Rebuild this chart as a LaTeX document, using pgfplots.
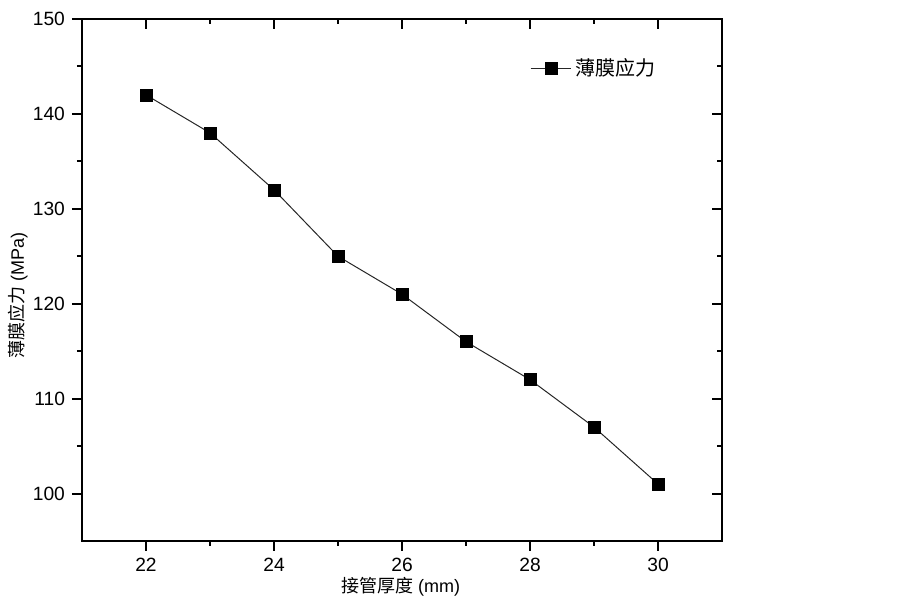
\documentclass[border=0pt]{standalone}
\usepackage{fontspec}
\setmainfont{Liberation Sans}
\newfontfamily\cjk{Noto Sans CJK SC}
\usepackage{pgfplots}
\pgfplotsset{compat=1.18}

\begin{document}
\begin{tikzpicture}
    \pgfplotsset{
        every axis/.append style={
            scale only axis,
            width=320pt, height=261pt,
            xmin=21, xmax=31,
            ymin=95, ymax=150,
            xtick={22,24,...,30},
            ytick={100,110,...,150},
            minor x tick num=1,
            minor y tick num=1,
            major tick length=5pt,
            minor tick length=2.5pt,
            axis line style={line width=1pt},
            every tick/.style={black, line width=1pt},
            tick label style={font=\fontsize{9.6}{10}\selectfont},
            label style={font=\fontsize{9}{10}\selectfont},
            /pgf/number format/assume math mode=true,
        },
    }
    \begin{axis}[
        name=main,
        tick align=outside,
        xtick pos=bottom,
        ytick pos=left,
        xlabel={{\cjk 接管厚度} (mm)},
        ylabel={{\cjk 薄膜应力} (MPa)},
        x label style={at={(axis description cs:0.498,-0.088)}, anchor=center},
        y label style={at={(axis description cs:-0.1,0.471)}, anchor=center, rotate=0},
        legend style={draw=none, fill=none, at={(axis description cs:0.69,0.906)},
            anchor=west, font=\fontsize{10}{11}\selectfont\cjk,
            /tikz/every even column/.append style={column sep=2pt}},
        legend image code/.code={
            \draw[mark repeat=2, mark phase=2, #1]
                plot coordinates {(0cm,0cm) (0.36cm,0cm) (0.72cm,0cm)};
        },
    ]
        \addplot[black!85, line width=0.5pt, mark=square*,
            mark options={black, solid, line width=0.3pt}, mark size=3pt]
            coordinates {
                (22,142) (23,138) (24,132) (25,125) (26,121)
                (27,116) (28,112) (29,107) (30,101)
            };
        \addlegendentry{薄膜应力}
    \end{axis}
    \begin{axis}[
        tick align=inside,
        xtick pos=top,
        ytick pos=right,
        xticklabels={}, yticklabels={},
    ]
    \end{axis}
    \path ([xshift=-41pt, yshift=-28pt]main.south west)
        rectangle ([xshift=90.5pt, yshift=9.5pt]main.north east);
\end{tikzpicture}
\end{document}
